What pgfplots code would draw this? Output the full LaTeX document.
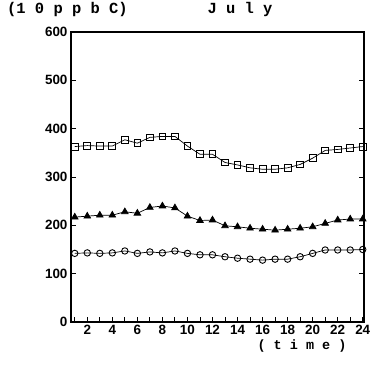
\documentclass[border=0pt]{standalone}
\usepackage{fontspec}
\setmainfont{Liberation Sans}
\newfontfamily\monof{Liberation Mono}
\usepackage{pgfplots}
\pgfplotsset{compat=1.18}
\begin{document}
\begin{tikzpicture}[x=1bp,y=1bp]
\begin{axis}[
  at={(0,0)}, anchor=south west,
  scale only axis, width=293bp, height=290bp,
  xmin=0.7, xmax=24.1, ymin=0, ymax=600,
  xtick={1,...,24},
  xticklabels={,2,,4,,6,,8,,10,,12,,14,,16,,18,,20,,22,,24},
  ytick={0,100,...,600},
  tick align=inside,
  xtick pos=bottom, ytick pos=both,
  major tick length=5bp,
  axis line style={line width=1.1bp},
  tick style={line width=0.9bp, black},
  ticklabel style={font=\bfseries\fontsize{13.5}{13.5}\selectfont},
  xticklabel style={yshift=0bp},
  /pgf/number format/assume math mode=true,
  clip=false,
]
\addplot[black, line width=0.7bp, mark=square, mark size=3.4bp, mark options={fill=white, line width=0.9bp}]
coordinates {(1,363)(2,365)(3,364)(4,364)(5,377)(6,370)(7,382)(8,384)(9,384)(10,364)(11,347)(12,347)(13,330)(14,325)(15,319)(16,316)(17,316)(18,319)(19,326)(20,339)(21,355)(22,357)(23,360)(24,363)};
\addplot[black, line width=0.7bp, mark=triangle*, mark size=3.8bp, mark options={fill=black}]
coordinates {(1,217)(2,219)(3,221)(4,221)(5,228)(6,225)(7,237)(8,240)(9,236)(10,219)(11,210)(12,211)(13,199)(14,197)(15,194)(16,192)(17,190)(18,192)(19,194)(20,197)(21,204)(22,211)(23,213)(24,213)};
\addplot[black, line width=0.7bp, mark=o, mark size=3.2bp, mark options={fill=white, line width=0.9bp}]
coordinates {(1,142)(2,143)(3,142)(4,143)(5,147)(6,142)(7,145)(8,143)(9,147)(10,142)(11,139)(12,139)(13,135)(14,132)(15,130)(16,128)(17,130)(18,130)(19,135)(20,142)(21,149)(22,149)(23,149)(24,150)};
\end{axis}
\node[anchor=west, inner sep=0, font=\monof\bfseries\fontsize{15.5}{15.5}\selectfont] at (-64,312) {(1 0 p p b C)};
\node[inner sep=0, font=\monof\bfseries\fontsize{15.5}{15.5}\selectfont] at (169,312) {J u l y};
\node[inner sep=0, font=\monof\bfseries\fontsize{13.5}{13.5}\selectfont] at (231,-24) {( t i m e )};
\pgfresetboundingbox
\path[use as bounding box] (-71,-43) rectangle (299,322);
\end{tikzpicture}
\end{document}
